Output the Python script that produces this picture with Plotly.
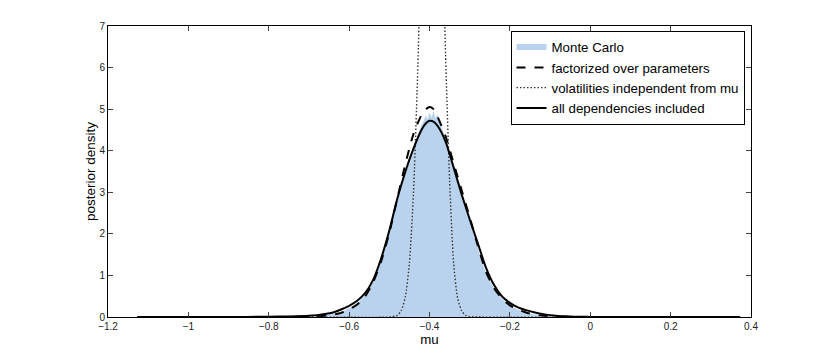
import plotly.graph_objects as go

# curves (x = mu, y = posterior density)
curve_x = [-1.127, -1.0, -0.9, -0.8, -0.75, -0.70, -0.68, -0.66, -0.64, -0.62, -0.60,
           -0.58, -0.56, -0.54, -0.52, -0.50, -0.48, -0.46, -0.44, -0.42, -0.41, -0.40,
           -0.39, -0.38, -0.36, -0.34, -0.32, -0.30, -0.28, -0.26, -0.24, -0.22, -0.20,
           -0.18, -0.16, -0.14, -0.12, -0.10, -0.08, -0.06, -0.04, -0.02, 0.0, 0.1, 0.2, 0.373]
all_deps = [0.0, 0.0, 0.001, 0.006, 0.015, 0.03, 0.045, 0.07, 0.11, 0.18, 0.27,
            0.39, 0.58, 0.90, 1.42, 2.08, 2.85, 3.50, 4.05, 4.50, 4.65, 4.72,
            4.70, 4.60, 4.22, 3.60, 2.95, 2.35, 1.78, 1.20, 0.78, 0.50, 0.34,
            0.23, 0.165, 0.115, 0.075, 0.045, 0.027, 0.016, 0.009, 0.005, 0.003, 0.0, 0.0, 0.0]
factorized = [0.0, 0.0, 0.0, 0.001, 0.003, 0.008, 0.015, 0.03, 0.055, 0.10, 0.18,
              0.30, 0.50, 0.84, 1.35, 2.02, 2.86, 3.68, 4.40, 4.86, 4.99, 5.05,
              5.00, 4.82, 4.35, 3.70, 3.05, 2.40, 1.72, 1.10, 0.70, 0.45, 0.28,
              0.18, 0.11, 0.065, 0.035, 0.018, 0.009, 0.004, 0.002, 0.001, 0.0, 0.0, 0.0, 0.0]

vol_x = [-1.127, -0.70, -0.50, -0.48, -0.47, -0.46, -0.45, -0.44, -0.43, -0.42, -0.41,
         -0.40, -0.394, -0.39, -0.38, -0.37, -0.36, -0.35, -0.34, -0.33, -0.32, -0.31,
         -0.30, -0.28, 0.373]
vol_indep = [0.0, 0.0, 0.0, 0.04, 0.16, 0.49, 1.3, 2.95, 5.7, 9.3, 13.0,
             15.5, 16.0, 15.8, 13.7, 10.1, 6.3, 3.3, 1.3, 0.45, 0.15, 0.04,
             0.01, 0.0, 0.0]

mc_x = [-0.700, -0.695, -0.690, -0.685, -0.680, -0.675, -0.670, -0.665, -0.660, -0.655,
        -0.650, -0.645, -0.640, -0.635, -0.630, -0.625, -0.620, -0.615, -0.610, -0.605,
        -0.600, -0.595, -0.590, -0.585, -0.580, -0.575, -0.570, -0.565, -0.560, -0.555,
        -0.550, -0.545, -0.540, -0.535, -0.530, -0.525, -0.520, -0.515, -0.510, -0.505,
        -0.500, -0.495, -0.490, -0.485, -0.480, -0.475, -0.470, -0.465, -0.460, -0.455,
        -0.450, -0.445, -0.440, -0.435, -0.430, -0.425, -0.420, -0.415, -0.410, -0.405,
        -0.400, -0.395, -0.390, -0.385, -0.380, -0.375, -0.370, -0.365, -0.360, -0.355,
        -0.350, -0.345, -0.340, -0.335, -0.330, -0.325, -0.320, -0.315, -0.310, -0.305,
        -0.300, -0.295, -0.290, -0.285, -0.280, -0.275, -0.270, -0.265, -0.260, -0.255,
        -0.250, -0.245, -0.240, -0.235, -0.230, -0.225, -0.220, -0.215, -0.210, -0.205,
        -0.200, -0.195, -0.190, -0.185, -0.180, -0.175, -0.170, -0.165, -0.160, -0.155,
        -0.150, -0.145, -0.140, -0.135, -0.130, -0.125, -0.120, -0.115, -0.110, -0.105,
        -0.100, -0.095, -0.090, -0.080, -0.070, -0.060, -0.040, -0.020, 0.000]
monte_carlo = [0.01, 0.012, 0.014, 0.018, 0.02, 0.025, 0.03, 0.035, 0.04, 0.05,
               0.055, 0.065, 0.075, 0.085, 0.10, 0.11, 0.13, 0.145, 0.16, 0.19,
               0.21, 0.235, 0.26, 0.30, 0.33, 0.37, 0.42, 0.47, 0.53, 0.60,
               0.67, 0.76, 0.85, 0.97, 1.10, 1.24, 1.38, 1.55, 1.72, 1.90,
               2.06, 2.26, 2.45, 2.66, 2.85, 3.02, 3.20, 3.36, 3.52, 3.66,
               3.80, 3.95, 4.08, 4.22, 4.36, 4.50, 4.62, 4.70, 4.85, 4.76,
               4.92, 4.80, 4.95, 4.78, 4.88, 4.66, 4.58, 4.42, 4.28, 4.12,
               3.97, 3.80, 3.62, 3.45, 3.28, 3.12, 2.95, 2.80, 2.62, 2.46,
               2.30, 2.14, 1.98, 1.82, 1.66, 1.50, 1.35, 1.21, 1.08, 0.97,
               0.87, 0.78, 0.70, 0.62, 0.55, 0.49, 0.44, 0.39, 0.35, 0.31,
               0.28, 0.25, 0.22, 0.20, 0.18, 0.16, 0.14, 0.125, 0.11, 0.095,
               0.085, 0.075, 0.065, 0.055, 0.048, 0.04, 0.035, 0.03, 0.025, 0.02,
               0.017, 0.014, 0.012, 0.009, 0.006, 0.004, 0.002, 0.001, 0.0]

fig = go.Figure()
fig.add_trace(go.Scatter(x=mc_x, y=monte_carlo, name="Monte Carlo", mode="none",
                         fill="tozeroy", fillcolor="#b9d3ee"))
fig.add_trace(go.Scatter(x=curve_x, y=factorized, name="factorized over parameters",
                         mode="lines", line=dict(color="black", width=2, dash="dash",
                                                 shape="spline", smoothing=0.6)))
fig.add_trace(go.Scatter(x=vol_x, y=vol_indep, name="volatilities independent from mu",
                         mode="lines", line=dict(color="#333333", width=1.4, dash="1.5px,2px",
                                                 shape="spline", smoothing=0.6)))
fig.add_trace(go.Scatter(x=curve_x, y=all_deps, name="all dependencies included",
                         mode="lines", line=dict(color="black", width=2,
                                                 shape="spline", smoothing=0.6)))

# the page body adds an 8px offset, so the figure is sized to fit inside the window
font = "Liberation Sans, Arial, sans-serif"
fig.update_layout(
    width=822, height=341,
    margin=dict(l=99.5, r=79, t=17.7, b=32.3),
    plot_bgcolor="white", paper_bgcolor="white",
    font=dict(family=font, size=13.3, color="black"),
    legend=dict(x=0.626, y=0.983, xanchor="left", yanchor="top",
                bgcolor="white", bordercolor="black", borderwidth=1,
                font=dict(size=13.3), tracegroupgap=0, itemwidth=30),
)
fig.update_xaxes(range=[-1.2, 0.4], dtick=0.2, tick0=-1.2, showgrid=False, zeroline=False,
                 showline=True, linecolor="black", linewidth=1, mirror="ticks",
                 ticks="inside", ticklen=5, tickcolor="#444", automargin=False,
                 tickfont=dict(size=10, color="#222"),
                 title=dict(text="mu", font=dict(size=13.3), standoff=0))
fig.update_yaxes(range=[0, 7], dtick=1, showgrid=False, zeroline=False,
                 showline=True, linecolor="black", linewidth=1, mirror="ticks",
                 ticks="inside", ticklen=5, tickcolor="#444", automargin=False,
                 tickfont=dict(size=10, color="#222"),
                 title=dict(text="posterior density", font=dict(size=13.5), standoff=0))

fig.write_html("out.html")
